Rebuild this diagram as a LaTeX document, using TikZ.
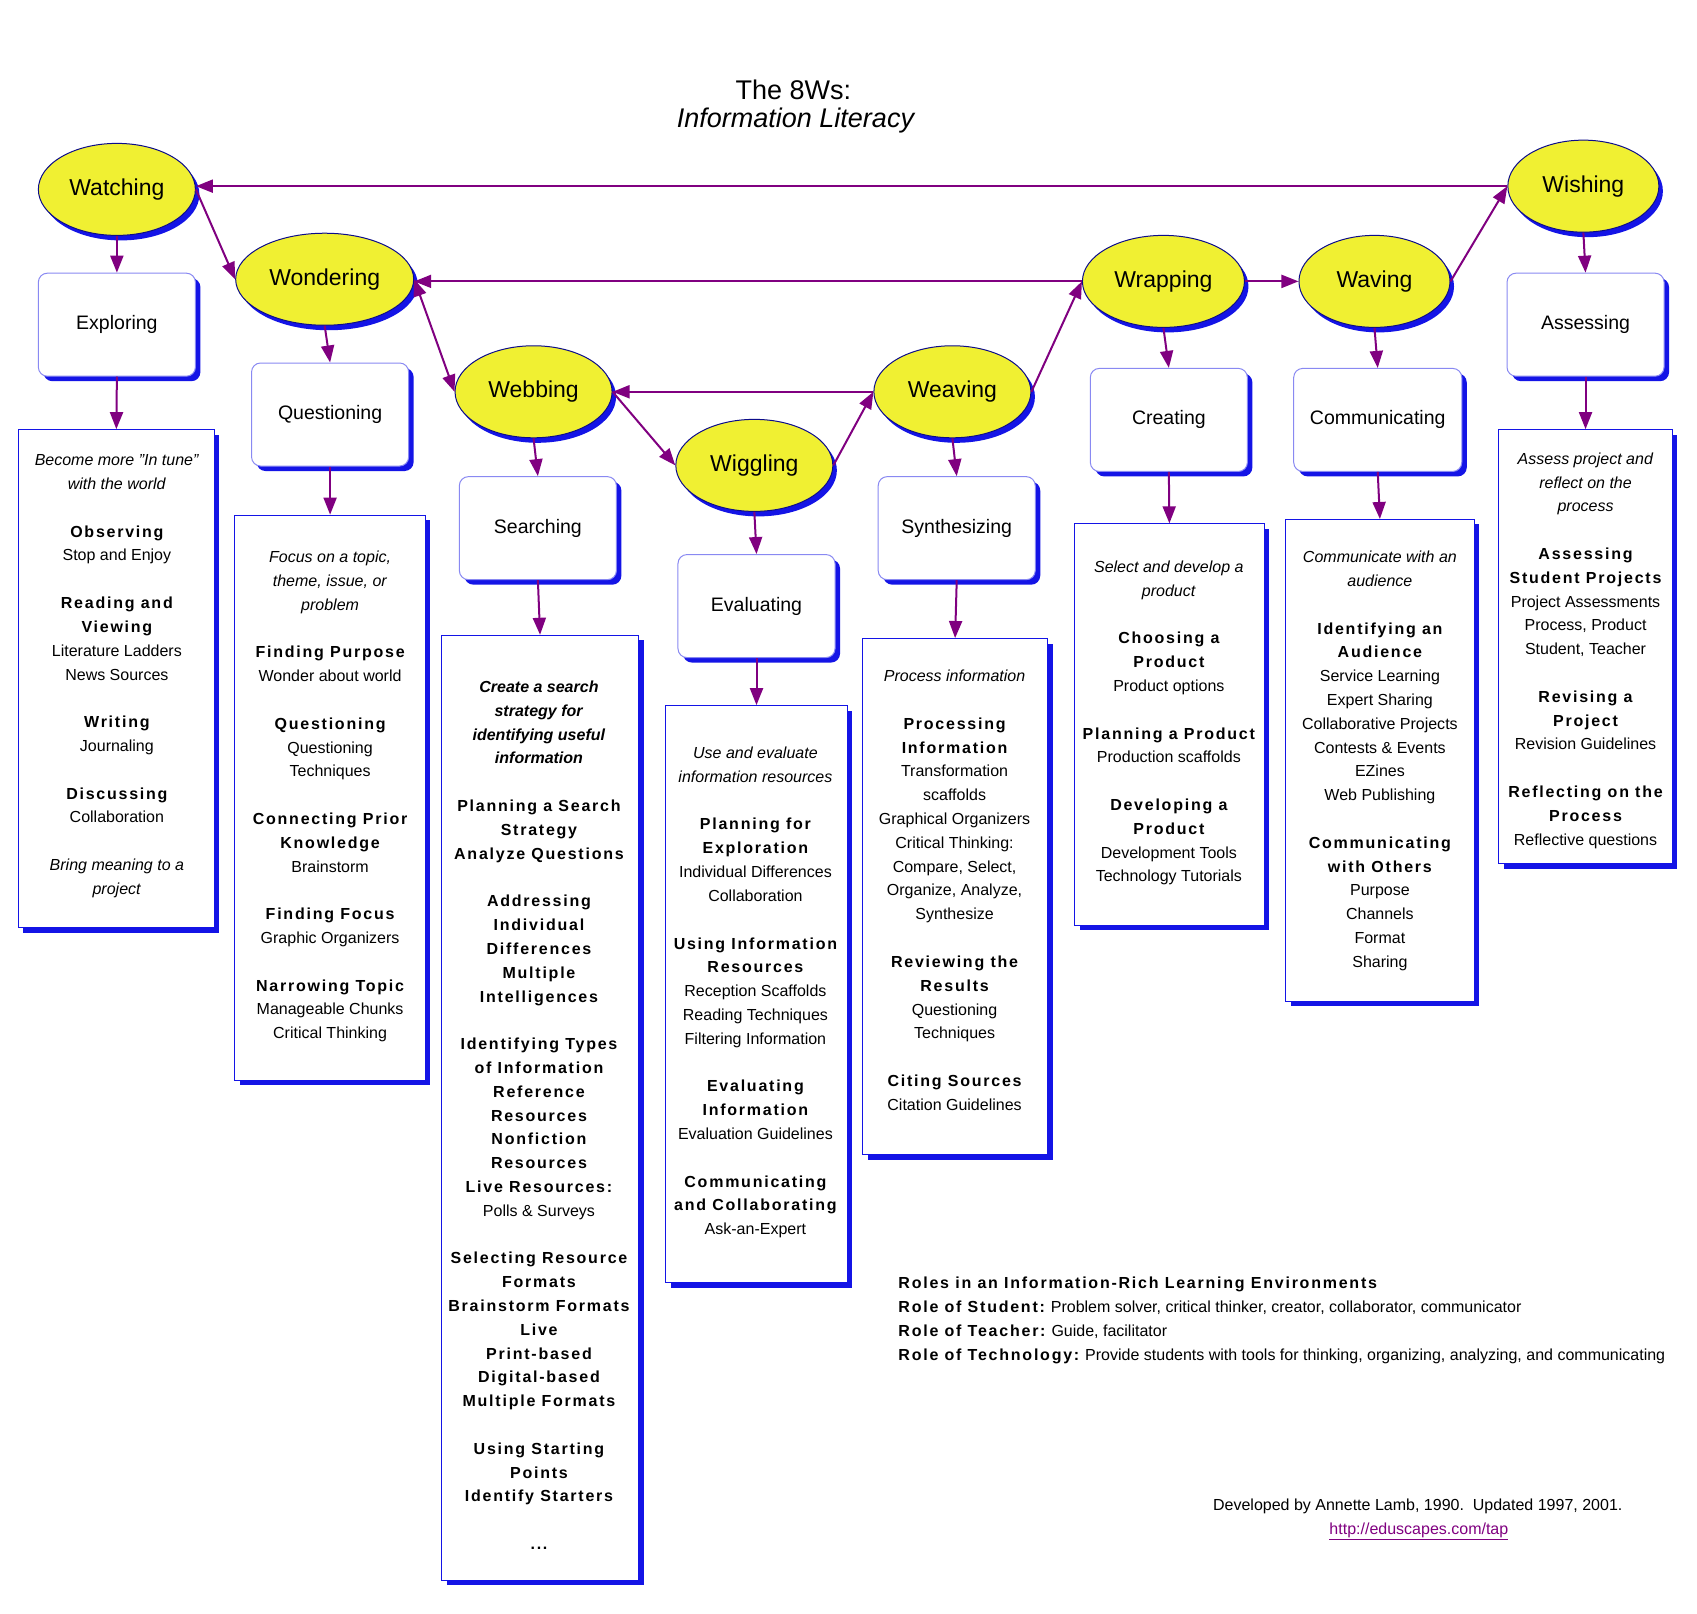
\documentclass[tikz,border=0pt]{standalone}
\usepackage{fontspec}
\setmainfont{Liberation Sans}
\usetikzlibrary{shapes.geometric,shadows,arrows.meta}
\definecolor{pur}{RGB}{128,0,128}
\definecolor{yel}{RGB}{240,240,50}
\definecolor{bl}{RGB}{20,20,230}
\newcommand\dbox[5]{\node[dbx,minimum width={(#4-#2)*1.082pt},minimum height={(#5-#3)*1.082pt}] (#1) at ({(#2+#4)/2},{(#3+#5)/2}) {};}
\newcommand\bb[1]{{\bfseries\addfontfeature{LetterSpace=11}#1}}
\newcommand\ii[1]{\textit{#1}}
\newcommand\gp{\\[23.8pt]}
\begin{document}
\begin{tikzpicture}[x=1.082pt,y=-1.082pt,
  ell/.style={ellipse,draw=bl!60!black,fill=yel,line width=1pt,minimum height=92pt,font=\fontsize{23}{26}\selectfont,
    drop shadow={shadow xshift=4pt,shadow yshift=-5pt,fill=bl,opacity=1}},
  rbox/.style={rounded corners=9pt,draw=bl!50,fill=white,line width=1pt,minimum width=157pt,minimum height=103pt,font=\fontsize{19.5}{22}\selectfont,
    drop shadow={shadow xshift=5pt,shadow yshift=-5pt,fill=bl,opacity=1}},
  dbx/.style={draw=bl,fill=white,line width=1pt,inner sep=0pt,
    drop shadow={shadow xshift=5pt,shadow yshift=-5pt,fill=bl,opacity=1}},
  txt/.style={anchor=north,align=center,inner sep=0pt,font=\fontsize{16}{23.8}\selectfont},
  arr/.style={draw=pur,line width=2pt,-{Triangle[length=17pt,width=13pt]},fill=pur},
  barr/.style={draw=pur,line width=2pt,{Triangle[length=17pt,width=13pt]}-{Triangle[length=17pt,width=13pt]},fill=pur}]
\useasboundingbox (0,0) rectangle (1568,1490.8);
\fill[white] (0,0) rectangle (1568,1490.8);
% title
\node[font=\fontsize{27}{30}\selectfont] (t1) at (733,83) {The 8Ws:};
\node[font=\fontsize{27}{30}\selectfont\itshape] (t2) at (735,111) {Information Literacy};
% ellipses
\node[ell,minimum width=157pt] (wat) at (108,175) {Watching};
\node[ell,minimum width=178pt] (won) at (300,258) {Wondering};
\node[ell,minimum width=157pt] (web) at (493,362) {Webbing};
\node[ell,minimum width=157pt] (wig) at (697,430) {Wiggling};
\node[ell,minimum width=157pt] (wea) at (880,362) {Weaving};
\node[ell,minimum width=162pt] (wra) at (1075,260) {Wrapping};
\node[ell,minimum width=151pt] (wav) at (1270,260) {Waving};
\node[ell,minimum width=151pt] (wis) at (1463,172) {Wishing};
% rounded boxes
\node[rbox] (exp) at (108,300) {Exploring};
\node[rbox] (que) at (305,383) {Questioning};
\node[rbox] (sea) at (497,488) {Searching};
\node[rbox] (eva) at (699,560) {Evaluating};
\node[rbox] (syn) at (884,488) {Synthesizing};
\node[rbox] (cre) at (1080,388) {Creating};
\node[rbox,minimum width=168pt] (com) at (1273,388) {Communicating};
\node[rbox] (ass) at (1465,300) {Assessing};
% detail boxes
\dbox{dexp}{17}{397}{198}{857}
\dbox{dque}{217}{476}{393}{998}
\dbox{dsea}{408}{587}{590}{1460}
\dbox{deva}{615}{652}{783}{1185}
\dbox{dsyn}{797}{590}{968}{1067}
\dbox{dcre}{993}{484}{1168}{855}
\dbox{dcom}{1188}{480}{1362}{925}
\dbox{dass}{1385}{397}{1545}{798}
% connectors
\foreach \a/\b/\c in {wat/exp/dexp,won/que/dque,web/sea/dsea,wig/eva/deva,wea/syn/dsyn,wra/cre/dcre,wav/com/dcom,wis/ass/dass}{
  \draw[arr] (\a.south) -- (\b.north);
  \draw[arr] (\b.south) -- (\c.north);
}
\draw[arr] (wat.east) -- (won.west);
\draw[barr] (won.east) -- (web.west);
\draw[arr] (web.east) -- (wig.west);
\draw[arr] (wig.east) -- (wea.west);
\draw[arr] (wea.east) -- (wra.west);
\draw[arr] (wra.east) -- (wav.west);
\draw[arr] (wav.east) -- (wis.west);
\draw[arr] (wis.west) -- (wis.west -| wat.east);
\draw[arr] (wra.west) -- (wra.west -| won.east);
\draw[arr] (wea.west) -- (wea.west -| web.east);
% texts
\node[txt] (xexp) at (108,420) {\ii{Become more "In tune"}\\\ii{with the world}\gp
\bb{Observing}\\Stop and Enjoy\gp\bb{Reading and}\\\bb{Viewing}\\Literature Ladders\\News Sources\gp
\bb{Writing}\\Journaling\gp\bb{Discussing}\\Collaboration\gp\ii{Bring meaning to a}\\\ii{project}};
\node[txt] (xque) at (305,509) {\ii{Focus on a topic,}\\\ii{theme, issue, or}\\\ii{problem}\gp
\bb{Finding Purpose}\\Wonder about world\gp\bb{Questioning}\\Questioning\\Techniques\gp
\bb{Connecting Prior}\\\bb{Knowledge}\\Brainstorm\gp\bb{Finding Focus}\\Graphic Organizers\gp
\bb{Narrowing Topic}\\Manageable Chunks\\Critical Thinking};
\node[txt] (xsea) at (498,629) {\textbf{\textit{Create a search}}\\\textbf{\textit{strategy for}}\\\textbf{\textit{identifying useful}}\\\textbf{\textit{information}}\gp
\bb{Planning a Search}\\\bb{Strategy}\\\bb{Analyze Questions}\gp
\bb{Addressing}\\\bb{Individual}\\\bb{Differences}\\\bb{Multiple}\\\bb{Intelligences}\gp
\bb{Identifying Types}\\\bb{of Information}\\\bb{Reference}\\\bb{Resources}\\\bb{Nonfiction}\\\bb{Resources}\\\bb{Live Resources:}\\Polls \& Surveys\gp
\bb{Selecting Resource}\\\bb{Formats}\\\bb{Brainstorm Formats}\\\bb{Live}\\\bb{Print-based}\\\bb{Digital-based}\\\bb{Multiple Formats}\gp
\bb{Using Starting}\\\bb{Points}\\\bb{Identify Starters}\gp\bb{...}};
\node[txt] (xeva) at (698,690) {\ii{Use and evaluate}\\\ii{information resources}\gp
\bb{Planning for}\\\bb{Exploration}\\Individual Differences\\Collaboration\gp
\bb{Using Information}\\\bb{Resources}\\Reception Scaffolds\\Reading Techniques\\Filtering Information\gp
\bb{Evaluating}\\\bb{Information}\\Evaluation Guidelines\gp
\bb{Communicating}\\\bb{and Collaborating}\\Ask-an-Expert};
\node[txt] (xsyn) at (882,619) {\ii{Process information}\gp
\bb{Processing}\\\bb{Information}\\Transformation\\scaffolds\\Graphical Organizers\\Critical Thinking:\\Compare, Select,\\Organize, Analyze,\\Synthesize\gp
\bb{Reviewing the}\\\bb{Results}\\Questioning\\Techniques\gp\bb{Citing Sources}\\Citation Guidelines};
\node[txt] (xcre) at (1080,518) {\ii{Select and develop a}\\\ii{product}\gp
\bb{Choosing a}\\\bb{Product}\\Product options\gp\bb{Planning a Product}\\Production scaffolds\gp
\bb{Developing a}\\\bb{Product}\\Development Tools\\Technology Tutorials};
\node[txt] (xcom) at (1275,509) {\ii{Communicate with an}\\\ii{audience}\gp
\bb{Identifying an}\\\bb{Audience}\\Service Learning\\Expert Sharing\\Collaborative Projects\\Contests \& Events\\EZines\\Web Publishing\gp
\bb{Communicating}\\\bb{with Others}\\Purpose\\Channels\\Format\\Sharing};
\node[txt] (xass) at (1465,418) {\ii{Assess project and}\\\ii{reflect on the}\\\ii{process}\gp
\bb{Assessing}\\\bb{Student Projects}\\Project Assessments\\Process, Product\\Student, Teacher\gp
\bb{Revising a}\\\bb{Project}\\Revision Guidelines\gp\bb{Reflecting on the}\\\bb{Process}\\Reflective questions};
% roles
\node[anchor=north west,align=left,inner sep=0pt,font=\fontsize{16}{23.8}\selectfont] (roles) at (830,1180)
{\bb{Roles in an Information-Rich Learning Environments}\\
\bb{Role of Student:} Problem solver, critical thinker, creator, collaborator, communicator\\
\bb{Role of Teacher:} Guide, facilitator\\
\bb{Role of Technology:} Provide students with tools for thinking, organizing, analyzing, and communicating};
\node[font=\fontsize{16}{18}\selectfont] (dev) at (1310,1392) {Developed by Annette Lamb, 1990.\ \ Updated 1997, 2001.};
\node[font=\fontsize{16}{18}\selectfont,text=pur] (url) at (1311,1415) {\underline{http://eduscapes.com/tap}};
\end{tikzpicture}
\end{document}
